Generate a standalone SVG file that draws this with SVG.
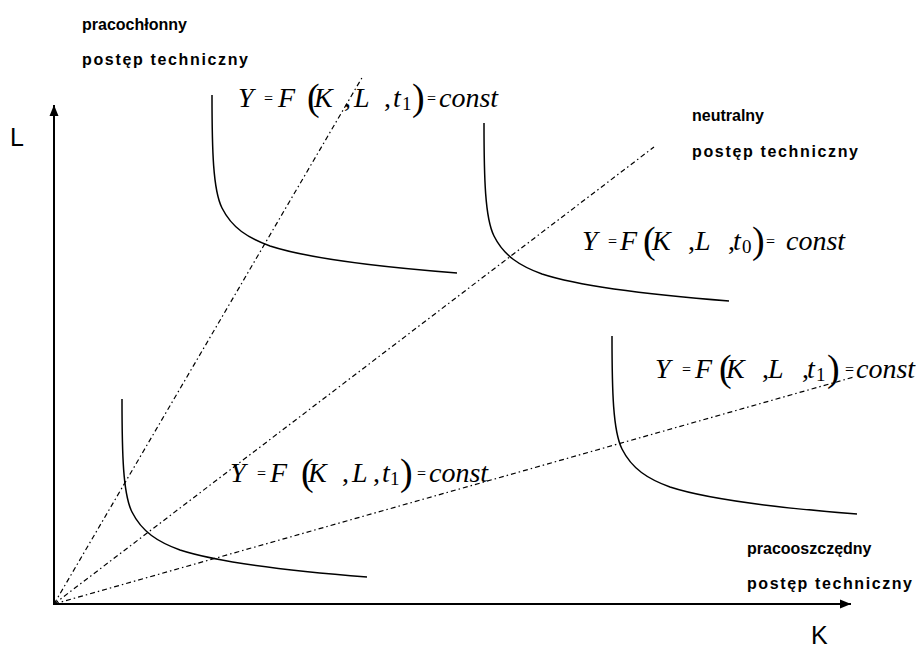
<svg xmlns="http://www.w3.org/2000/svg" xmlns:xlink="http://www.w3.org/1999/xlink" width="916" height="648" viewBox="0 0 916 648">
<style>
.lbl{font-family:"Liberation Sans",Arial,sans-serif;font-weight:bold;font-size:16px;fill:#000}
.ax{font-family:"Liberation Sans",Arial,sans-serif;font-size:25px;fill:#000}
.f{font-family:"Liberation Serif","Times New Roman",serif;font-style:italic;font-size:28px;fill:#000}
.up{font-style:normal}
.eq{font-style:normal;font-size:16px}
.par{font-style:normal;font-size:38px}
.sub{font-style:normal;font-size:19px}
.curve{fill:none;stroke:#000;stroke-width:1.5}
.ray{fill:none;stroke:#000;stroke-width:1.2;stroke-dasharray:5,3,1.5,3}
.axis{fill:none;stroke:#000;stroke-width:2}
</style>
<defs>
<marker id="arr" markerUnits="userSpaceOnUse" markerWidth="12" markerHeight="12" refX="11" refY="6" orient="auto">
<path d="M0,1.5 L11,6 L0,10.5 Z" fill="#000"/>
</marker>
<path id="iso" d="M212,95 C212,150 213,190 222,208 C232,228 248,238 270,246 C310,259 380,267 457,273"/>
</defs>

<g id="connectors">
<line class="axis" x1="54" y1="604" x2="54" y2="105" marker-end="url(#arr)"/>
<line class="axis" x1="53" y1="604" x2="851" y2="604" marker-end="url(#arr)"/>
<line class="ray" x1="54" y1="604" x2="363" y2="76"/>
<line class="ray" x1="54" y1="604" x2="654" y2="147"/>
<line class="ray" x1="54" y1="604" x2="854" y2="377"/>
</g>

<g id="iso1"><use xlink:href="#iso" class="curve"/></g>
<g id="iso0"><use xlink:href="#iso" class="curve" transform="translate(272,28)"/></g>
<g id="iso1b"><use xlink:href="#iso" class="curve" transform="translate(400,241)"/></g>
<g id="iso1c"><use xlink:href="#iso" class="curve" transform="translate(-90,304)"/></g>

<g id="axis-labels">
<text class="ax" x="10" y="146">L</text>
<text class="ax" x="811" y="644">K</text>
</g>

<g id="label-labour">
<text class="lbl" x="82" y="30">pracochłonny</text>
<text class="lbl" x="82" y="65" textLength="166" lengthAdjust="spacing">postęp techniczny</text>
</g>
<g id="label-neutral">
<text class="lbl" x="692" y="121">neutralny</text>
<text class="lbl" x="692" y="157" textLength="166" lengthAdjust="spacing">postęp techniczny</text>
</g>
<g id="label-capital">
<text class="lbl" x="747" y="554">pracooszczędny</text>
<text class="lbl" x="747" y="589" textLength="165" lengthAdjust="spacing">postęp techniczny</text>
</g>

<g id="formula1" transform="translate(238,107)">
<text class="f"><tspan x="0">Y</tspan><tspan class="eq" x="26" dy="-3">=</tspan><tspan x="40" dy="3">F</tspan><tspan class="par" x="69" dy="3">(</tspan><tspan x="76" dy="-3">K</tspan><tspan class="up" x="106">,</tspan><tspan x="116">L</tspan><tspan class="up" x="146">,</tspan><tspan x="155">t</tspan><tspan class="sub" x="164" dy="3">1</tspan><tspan class="par" x="174" dy="0">)</tspan><tspan class="eq" x="189" dy="-6">=</tspan><tspan x="201" dy="3">const</tspan></text>
</g>
<g id="formula2" transform="translate(582,250)">
<text class="f"><tspan x="0">Y</tspan><tspan class="eq" x="26" dy="-3">=</tspan><tspan x="38" dy="3">F</tspan><tspan class="par" x="61" dy="3">(</tspan><tspan x="70" dy="-3">K</tspan><tspan class="up" x="106">,</tspan><tspan x="113">L</tspan><tspan class="up" x="146">,</tspan><tspan x="151">t</tspan><tspan class="sub" x="160" dy="3">0</tspan><tspan class="par" x="170" dy="0">)</tspan><tspan class="eq" x="184" dy="-6">=</tspan><tspan x="204" dy="3">const</tspan></text>
</g>
<g id="formula3" transform="translate(655,378)">
<text class="f"><tspan x="0">Y</tspan><tspan class="eq" x="27" dy="-3">=</tspan><tspan x="40" dy="3">F</tspan><tspan class="par" x="64" dy="3">(</tspan><tspan x="71" dy="-3">K</tspan><tspan class="up" x="107">,</tspan><tspan x="113">L</tspan><tspan class="up" x="147">,</tspan><tspan x="152">t</tspan><tspan class="sub" x="161" dy="3">1</tspan><tspan class="par" x="172" dy="0">)</tspan><tspan class="eq" x="190" dy="-6">=</tspan><tspan x="201" dy="3">const</tspan></text>
</g>
<g id="formula4" transform="translate(230,482)">
<text class="f"><tspan x="0">Y</tspan><tspan class="eq" x="27" dy="-3">=</tspan><tspan x="40" dy="3">F</tspan><tspan class="par" x="71" dy="3">(</tspan><tspan x="78" dy="-3">K</tspan><tspan class="up" x="112">,</tspan><tspan x="122">L</tspan><tspan class="up" x="143">,</tspan><tspan x="152">t</tspan><tspan class="sub" x="160" dy="3">1</tspan><tspan class="par" x="170" dy="0">)</tspan><tspan class="eq" x="187" dy="-6">=</tspan><tspan x="199" dy="3">const</tspan></text>
</g>
</svg>
